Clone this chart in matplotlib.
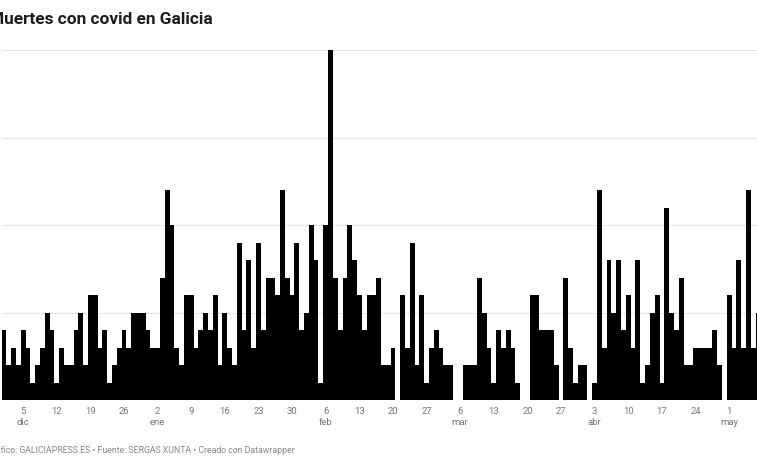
import matplotlib
matplotlib.use("Agg")
import matplotlib.pyplot as plt
import numpy as np
import pandas as pd

# Daily deaths with covid in Galicia, starting 1 Dec 2020
start_date = "2020-12-01"
deaths = [
    4, 2, 3, 2, 4, 3, 1, 2, 3, 5, 4, 1, 3, 2, 2, 4, 5, 2, 6, 6, 3, 4, 1, 2, 3, 4, 3,
    5, 5, 5, 4, 3, 3, 7, 12, 10, 3, 2, 6, 6, 3, 4, 5, 4, 6, 2, 5, 3, 2, 9, 4, 8, 3,
    9, 4, 7, 7, 6, 12, 7, 6, 9, 4, 5, 10, 8, 1, 10, 20, 7, 4, 7, 10, 8, 6, 4, 6, 6, 7,
    2, 2, 3, 0, 6, 3, 9, 2, 6, 1, 3, 4, 3, 2, 2, 0, 0, 2, 2, 2, 7, 5, 3, 1, 4, 3,
    4, 3, 1, 0, 0, 6, 6, 4, 4, 4, 2, 0, 7, 3, 1, 2, 2, 0, 1, 12, 3, 8, 5, 8, 4, 6,
    3, 8, 1, 2, 5, 6, 1, 11, 5, 4, 7, 2, 2, 3, 3, 3, 3, 4, 2, 0, 6, 3, 8, 3, 12, 3, 5,
]
month_names = ["ene", "feb", "mar", "abr", "may", "jun", "jul", "ago", "sep", "oct", "nov", "dic"]
y_gridlines = [0, 5, 10, 15, 20]

title = "Muertes con covid en Galicia"
footer = "Gráfico: GALICIAPRESS.ES • Fuente: SERGAS XUNTA • Creado con Datawrapper"

dates = pd.date_range(start_date, periods=len(deaths), freq="D")

# Weekly tick labels starting on 5 Dec
tick_idx = list(range(4, len(deaths), 7))
tick_labels = []
seen_months = set()
for i in tick_idx:
    d = dates[i]
    key = (d.year, d.month)
    if key not in seen_months:
        seen_months.add(key)
        tick_labels.append(f"{d.day}\n{month_names[d.month - 1]}")
    else:
        tick_labels.append(f"{d.day}")

W_PX, H_PX = 757, 463
fig = plt.figure(figsize=(W_PX / 100, H_PX / 100), dpi=100)
fig.patch.set_facecolor("white")

bar_px = 4.803
x0_px = 1.5
ax_left = x0_px / W_PX
ax_bottom = (H_PX - 400) / H_PX
ax_top = (H_PX - 50) / H_PX
ax = fig.add_axes([ax_left, ax_bottom, 1 - ax_left, ax_top - ax_bottom])

x = np.arange(len(deaths))
ax.bar(x, deaths, width=1.0, color="#000000", linewidth=0, zorder=3)

ax.set_xlim(-0.5, (W_PX - x0_px) / bar_px - 0.5)
ax.set_ylim(0, 20)
ax.set_yticks(y_gridlines)
ax.yaxis.grid(True, color="#e5e5e5", linewidth=0.8, zorder=0)
ax.tick_params(axis="y", left=False, labelleft=False)
for s in ax.spines.values():
    s.set_visible(False)

ax.set_xticks(tick_idx)
ax.set_xticklabels(tick_labels, family=["Roboto", "DejaVu Sans"], fontsize=6.8,
                   color="#777777", linespacing=1.3)
ax.tick_params(axis="x", length=0, pad=5)

fig.text(213 / W_PX, (H_PX - 24.3) / H_PX, title, ha="right", va="baseline",
         family=["Roboto", "DejaVu Sans"], fontweight="bold", fontsize=12.4,
         color="#1d1d1d")
fig.text(295 / W_PX, (H_PX - 453) / H_PX, footer, ha="right", va="baseline",
         family=["Roboto", "DejaVu Sans"], fontsize=6.35, color="#888888")

fig.savefig("out.png", dpi=100, facecolor="white")
